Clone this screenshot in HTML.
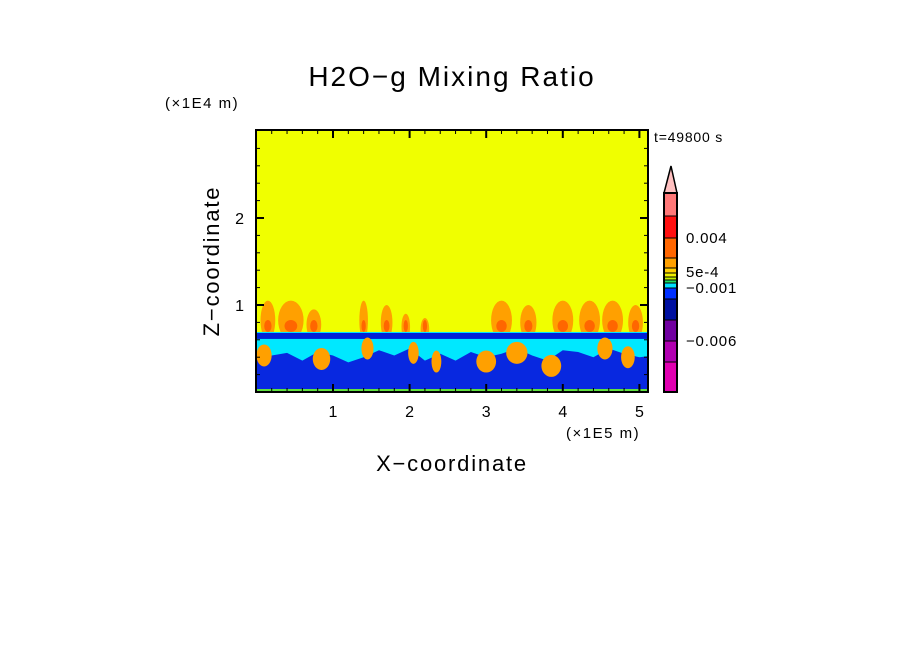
<!DOCTYPE html>
<html><head><meta charset="utf-8"><style>
body{margin:0;background:#fff;}
svg{display:block;font-family:"Liberation Sans","DejaVu Sans",sans-serif;}
</style></head><body>
<svg id="chart" width="904" height="654" viewBox="0 0 904 654">
<text x="452" y="86" font-size="28" letter-spacing="2" text-anchor="middle">H2O−g Mixing Ratio</text>
<text x="165" y="108" font-size="15" letter-spacing="1.5">(×1E4 m)</text>
<text x="654" y="142" font-size="14" letter-spacing="0.8">t=49800 s</text>
<text x="566" y="438" font-size="15" letter-spacing="1.5">(×1E5 m)</text>
<text x="452" y="471" font-size="22" letter-spacing="1.8" text-anchor="middle">X−coordinate</text>
<text transform="translate(219,261) rotate(-90)" font-size="22" letter-spacing="1.8" text-anchor="middle">Z−coordinate</text>
<defs><clipPath id="pc"><rect x="256" y="130" width="392" height="262"/></clipPath></defs>
<g id="field" clip-path="url(#pc)"></g>
<g id="axes"></g>
<g id="cbar"></g>
</svg>
<script>
const xTicks=[1,2,3,4,5];
const zTicks=[1,2];
// boundary-layer field (x in 1e5 m, z in 1e4 m)
const layerTop=0.69;
const darkBandBottom=0.61;
const blueX=[0,0.2,0.4,0.6,0.8,1.0,1.2,1.4,1.6,1.8,2.0,2.2,2.4,2.6,2.8,3.0,3.2,3.4,3.6,3.8,4.0,4.2,4.4,4.6,4.8,5.0,5.2];
const blueTop=[0.38,0.42,0.45,0.36,0.46,0.42,0.34,0.4,0.48,0.42,0.5,0.36,0.44,0.36,0.46,0.4,0.44,0.5,0.42,0.36,0.48,0.46,0.4,0.5,0.44,0.4,0.42];
const plumeX=[0.15,0.45,0.75,1.4,1.7,1.95,2.2,3.2,3.55,4.0,4.35,4.65,4.95];
const plumeTop=[1.05,1.05,0.95,1.05,1.0,0.9,0.85,1.05,1.0,1.05,1.05,1.05,1.0];
const plumeW=[0.14,0.28,0.14,0.06,0.1,0.06,0.06,0.22,0.16,0.22,0.22,0.22,0.14];
const blobX=[0.1,0.85,1.45,2.05,2.35,3.0,3.4,3.85,4.55,4.85];
const blobZ=[0.42,0.38,0.5,0.45,0.35,0.35,0.45,0.3,0.5,0.4];
const blobW=[0.12,0.15,0.08,0.06,0.05,0.18,0.2,0.18,0.12,0.1];
const cbColors=["#ff7878","#ff1010","#ff6600","#ffa000","#ffd000","#f0f000","#c0f000","#20e060","#00e0ff","#0030ff","#0010a0","#7000a0","#b000b0","#e000b0"];
const cbHeights=[23,22,20,10,5,4,3,3,5,11,21,21,21,30];
const cbLabels=["0.004","5e-4","−0.001","−0.006"];
const cbLabelIdx=[2,5,9,12];

const NS="http://www.w3.org/2000/svg";
const X=v=>256.4+v*76.6, Z=v=>392-v*87;
function mk(tag,attrs,parent){const e=document.createElementNS(NS,tag);for(const k in attrs)e.setAttribute(k,attrs[k]);parent.appendChild(e);return e;}
const F=document.getElementById('field');
let r=mk('rect',{x:256,y:130,width:392,height:262,fill:'#f0ff00'},F);


plumeX.forEach((px,i)=>{
  let e=mk('ellipse',{cx:X(px),cy:(Z(plumeTop[i])+Z(layerTop))/2+4,rx:plumeW[i]*76.6/2+2,ry:(Z(layerTop)-Z(plumeTop[i]))/2+4,fill:'#ffa000'},F);
  
  
  let c=mk('ellipse',{cx:X(px),cy:Z(layerTop)-6,rx:plumeW[i]*76.6/4+1,ry:6,fill:'#ff6600'},F);
  
  
});
let cy=mk('rect',{x:256,y:Z(layerTop),width:392,height:Z(0)-Z(layerTop),fill:'#00e8ff'},F);


let db=mk('rect',{x:256,y:Z(layerTop)+1,width:392,height:Z(darkBandBottom)-Z(layerTop)-1,fill:'#0020d8'},F);


let pts=[[X(0),392]];
blueX.forEach((bx,i)=>pts.push([X(bx),Z(blueTop[i])]));
pts.push([X(5.2),392]);
let bp=mk('polygon',{points:pts.map(p=>p.join(',')).join(' '),fill:'#0828e0'},F);


blobX.forEach((bx,i)=>{
  let e=mk('ellipse',{cx:X(bx),cy:Z(blobZ[i]),rx:blobW[i]*76.6/2+3,ry:11,fill:'#ffa000'},F);
  
  
});
let gl=mk('rect',{x:256,y:389,width:392,height:3,fill:'#60e040'},F);


const A=document.getElementById('axes');
let fr=mk('rect',{x:256,y:130,width:392,height:262,fill:'none',stroke:'#000','stroke-width':2},A);


for(let v=0.2;v<5.15;v+=0.2){const maj=Math.abs(v-Math.round(v))<0.01;const l=maj?8:4;
  mk('line',{x1:X(v),x2:X(v),y1:392,y2:392-l,stroke:'#000','stroke-width':maj?2:1},A);
  mk('line',{x1:X(v),x2:X(v),y1:130,y2:130+l,stroke:'#000','stroke-width':maj?2:1},A);}
for(let v=0.2;v<3;v+=0.2){const maj=Math.abs(v-Math.round(v))<0.01;const l=maj?8:4;
  mk('line',{x1:256,x2:256+l,y1:Z(v),y2:Z(v),stroke:'#000','stroke-width':maj?2:1},A);
  mk('line',{x1:648,x2:648-l,y1:Z(v),y2:Z(v),stroke:'#000','stroke-width':maj?2:1},A);}
xTicks.forEach(t=>{let e=mk('text',{x:X(t),y:417,'font-size':16,'text-anchor':'middle'},A);e.textContent=t;
  
  });
zTicks.forEach(t=>{let e=mk('text',{x:244,y:Z(t)+6,'font-size':16,'text-anchor':'end'},A);e.textContent=t;
  
  });
const C=document.getElementById('cbar');
let tri=mk('polygon',{points:'664,193 671,166 677,193',fill:'#ffc0c0',stroke:'#000','stroke-width':1.5},C);


let y=193;const ys=[];
cbColors.forEach((c,i)=>{ys.push(y);let s=mk('rect',{x:664,y:y,width:13,height:cbHeights[i],fill:c,stroke:'#000','stroke-width':1},C);
  
  
  y+=cbHeights[i];});
ys.push(y);
let cf=mk('rect',{x:664,y:193,width:13,height:y-193,fill:'none',stroke:'#000','stroke-width':2},C);


cbLabels.forEach((t,i)=>{let e=mk('text',{x:686,y:ys[cbLabelIdx[i]]+5+(i==1?-1:0),'font-size':15,'letter-spacing':0.8},C);e.textContent=t;
  
  });
</script>
</body></html>
